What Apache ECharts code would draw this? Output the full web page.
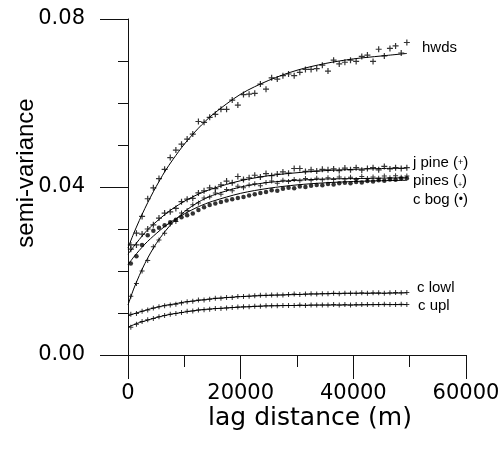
<!DOCTYPE html>
<html>
<head>
<meta charset="utf-8">
<script src="https://cdn.jsdelivr.net/npm/echarts@6/dist/echarts.min.js"></script>
<style>
html, body { margin: 0; padding: 0; background: #fff; }
#chart { width: 500px; height: 451px; }
</style>
</head>
<body>
<div id="chart"></div>
<script>
// lag distance (m) of the empirical semi-variance points
var lags = [500, 1500, 2500, 3500, 4500, 5500, 6500, 7500, 8500, 9500,
  10500, 11500, 12500, 13500, 14500, 15500, 16500, 17500, 18500, 19500,
  20500, 21500, 22500, 23500, 24500, 25500, 26500, 27500, 28500, 29500,
  30500, 31500, 32500, 33500, 34500, 35500, 36500, 37500, 38500, 39500,
  40500, 41500, 42500, 43500, 44500, 45500, 46500, 47500, 48500, 49500];

// lag distance (m) where the fitted models are drawn
var fitLags = [0, 1000, 2000, 3000, 4000, 5000, 6500, 8000, 10000, 12500,
  15000, 20000, 25000, 30000, 35000, 40000, 45000, 49500];

// empirical semi-variance
var hwdsPts = [0.0262, 0.0290, 0.0330, 0.0372, 0.0398, 0.0420, 0.0442, 0.0470, 0.0488, 0.0502,
  0.0514, 0.0526, 0.0556, 0.0554, 0.0566, 0.0573, 0.0585, 0.0585, 0.0607, 0.0595,
  0.0620, 0.0621, 0.0623, 0.0645, 0.0633, 0.0660, 0.0657, 0.0665, 0.0669, 0.0665,
  0.0673, 0.0680, 0.0680, 0.0682, 0.0690, 0.0676, 0.0702, 0.0693, 0.0697, 0.0702,
  0.0699, 0.0711, 0.0714, 0.0699, 0.0728, 0.0712, 0.0730, 0.0736, 0.0719, 0.0744];
var jpinePts = [0.0252, 0.0262, 0.0288, 0.0300, 0.0310, 0.0326, 0.0338, 0.0341, 0.0349, 0.0365,
  0.0371, 0.0373, 0.0386, 0.0391, 0.0398, 0.0396, 0.0405, 0.0414, 0.0410, 0.0425,
  0.0418, 0.0422, 0.0428, 0.0424, 0.0432, 0.0427, 0.0431, 0.0436, 0.0433, 0.0444,
  0.0444, 0.0437, 0.0441, 0.0438, 0.0442, 0.0441, 0.0443, 0.0439, 0.0445, 0.0441,
  0.0446, 0.0440, 0.0444, 0.0446, 0.0441, 0.0449, 0.0443, 0.0446, 0.0444, 0.0446];
var pinesPts = [0.0140, 0.0170, 0.0200, 0.0225, 0.0258, 0.0274, 0.0290, 0.0312, 0.0318, 0.0338,
  0.0344, 0.0358, 0.0362, 0.0374, 0.0376, 0.0386, 0.0383, 0.0394, 0.0391, 0.0402,
  0.0398, 0.0405, 0.0408, 0.0403, 0.0411, 0.0414, 0.0409, 0.0416, 0.0413, 0.0418,
  0.0415, 0.0420, 0.0416, 0.0421, 0.0417, 0.0422, 0.0418, 0.0424, 0.0419, 0.0423,
  0.0418, 0.0425, 0.0420, 0.0424, 0.0421, 0.0426, 0.0422, 0.0427, 0.0423, 0.0426];
var cbogPts = [0.0218, 0.0235, 0.0262, 0.0285, 0.0296, 0.0303, 0.0309, 0.0316, 0.0322, 0.0328,
  0.0333, 0.0337, 0.0345, 0.0352, 0.0357, 0.0361, 0.0364, 0.0368, 0.0371, 0.0374,
  0.0376, 0.0380, 0.0383, 0.0386, 0.0388, 0.0392, 0.0391, 0.0396, 0.0398, 0.0397,
  0.0401, 0.0400, 0.0403, 0.0405, 0.0404, 0.0407, 0.0406, 0.0409, 0.0410, 0.0409,
  0.0412, 0.0411, 0.0414, 0.0413, 0.0416, 0.0415, 0.0418, 0.0417, 0.0420, 0.0421];
var clowlPts = [0.0097, 0.0099, 0.0104, 0.0107, 0.0112, 0.0115, 0.0117, 0.0119, 0.0121, 0.0124,
  0.0127, 0.0128, 0.0131, 0.0131, 0.0133, 0.0135, 0.0135, 0.0137, 0.0137, 0.0139,
  0.0139, 0.0140, 0.0141, 0.0142, 0.0142, 0.0143, 0.0143, 0.0143, 0.0144, 0.0145,
  0.0144, 0.0145, 0.0146, 0.0145, 0.0146, 0.0146, 0.0147, 0.0146, 0.0147, 0.0147,
  0.0147, 0.0148, 0.0147, 0.0148, 0.0148, 0.0147, 0.0148, 0.0149, 0.0148, 0.0149];
var cuplPts = [0.0066, 0.0073, 0.0080, 0.0084, 0.0087, 0.0091, 0.0094, 0.0097, 0.0099, 0.0101,
  0.0104, 0.0105, 0.0107, 0.0108, 0.0109, 0.0111, 0.0111, 0.0112, 0.0113, 0.0114,
  0.0115, 0.0115, 0.0116, 0.0116, 0.0117, 0.0117, 0.0117, 0.0118, 0.0118, 0.0118,
  0.0119, 0.0118, 0.0119, 0.0119, 0.0119, 0.0119, 0.0120, 0.0119, 0.0120, 0.0119,
  0.0120, 0.0120, 0.0120, 0.0120, 0.0120, 0.0121, 0.0120, 0.0120, 0.0121, 0.0120];

// fitted models
var hwdsFit = [0.0255, 0.0289, 0.0320, 0.0349, 0.0376, 0.0401, 0.0436, 0.0466, 0.0502,
  0.0540, 0.0572, 0.0621, 0.0654, 0.0678, 0.0694, 0.0705, 0.0712, 0.0718];
var jpineFit = [0.0240, 0.0258, 0.0275, 0.0291, 0.0305, 0.0317, 0.0334, 0.0349, 0.0366,
  0.0383, 0.0396, 0.0415, 0.0427, 0.0434, 0.0439, 0.0442, 0.0444, 0.0445];
var pinesFit = [0.0119, 0.0157, 0.0189, 0.0218, 0.0243, 0.0265, 0.0293, 0.0316, 0.0341,
  0.0364, 0.0380, 0.0400, 0.0411, 0.0416, 0.0419, 0.0420, 0.0421, 0.0422];
var cbogFit = [0.0215, 0.0233, 0.0249, 0.0264, 0.0277, 0.0289, 0.0306, 0.0320, 0.0336,
  0.0353, 0.0366, 0.0385, 0.0397, 0.0405, 0.0410, 0.0413, 0.0415, 0.0416];
var clowlFit = [0.0093, 0.0098, 0.0102, 0.0106, 0.0110, 0.0113, 0.0118, 0.0121, 0.0126,
  0.0130, 0.0134, 0.0139, 0.0142, 0.0144, 0.0146, 0.0147, 0.0147, 0.0148];
var cuplFit = [0.0066, 0.0072, 0.0077, 0.0081, 0.0085, 0.0089, 0.0094, 0.0098, 0.0102,
  0.0107, 0.0110, 0.0114, 0.0117, 0.0118, 0.0119, 0.0119, 0.0120, 0.0120];

// plus marker drawn as two filled bars
var PLUS = "path://M0,4H10V6H0Z M4,0H6V10H4Z";

function pairs(xs, ys) {
  return ys.map(function (v, i) { return [xs[i], v]; });
}
function pts(name, ys, symbol, size) {
  return {
    name: name, type: "scatter", data: pairs(lags, ys),
    symbol: symbol, symbolSize: size,
    itemStyle: { color: "#000" }, z: 3
  };
}
function fit(name, ys) {
  return {
    name: name + " model", type: "line", data: pairs(fitLags, ys),
    smooth: 0.3, showSymbol: false, silent: true,
    lineStyle: { color: "#000", width: 1 }, z: 2
  };
}

var chart = echarts.init(document.getElementById("chart"));
var lblFont = '15px "Liberation Sans", Arial, sans-serif';

chart.setOption({
  animation: false,
  backgroundColor: "#fff",
  grid: { left: 128, right: 34, top: 19, bottom: 96, outerBoundsMode: "none" },
  xAxis: {
    type: "value", min: 0, max: 60000, interval: 20000,
    name: "lag distance (m)", nameLocation: "middle", nameGap: 51, nameMoveOverlap: false,
    nameTextStyle: { fontSize: 25, color: "#000", fontFamily: "DejaVu Sans", padding: [0, 0, 0, 26] },
    axisLine: { lineStyle: { color: "#111", width: 1 } },
    axisTick: { inside: false, length: 24, lineStyle: { color: "#111" } },
    minorTick: { show: true, splitNumber: 2, length: 12, lineStyle: { color: "#111" } },
    splitLine: { show: false },
    axisLabel: {
      fontSize: 21, color: "#000", fontFamily: "DejaVu Sans", margin: 28,
      formatter: function (v) { return String(v); }
    }
  },
  yAxis: {
    type: "value", min: 0, max: 0.08, interval: 0.04,
    name: "semi-variance", nameLocation: "middle", nameGap: 90, nameMoveOverlap: false,
    nameTextStyle: { fontSize: 24, color: "#000", fontFamily: "Liberation Sans", padding: [0, 0, 0, 28] },
    axisLine: { show: true, lineStyle: { color: "#111", width: 1 } },
    axisTick: { show: true, inside: false, length: 28, lineStyle: { color: "#111" } },
    minorTick: { show: true, splitNumber: 4, length: 10, lineStyle: { color: "#111" } },
    splitLine: { show: false },
    axisLabel: {
      fontSize: 21, color: "#000", fontFamily: "DejaVu Sans", margin: 43,
      formatter: function (v) { return v.toFixed(2); }
    }
  },
  graphic: [
    { type: "text", x: 422, y: 48, style: { text: "hwds", font: lblFont, fill: "#000", verticalAlign: "middle" } },
    { type: "text", x: 413, y: 163, style: { text: "j pine ({s|+})", font: lblFont, fill: "#000", verticalAlign: "middle",
      rich: { s: { fontSize: 9, fontFamily: "Liberation Sans" } } } },
    { type: "text", x: 413, y: 181, style: { text: "pines ({s|+})", font: lblFont, fill: "#000", verticalAlign: "middle",
      rich: { s: { fontSize: 7, fontFamily: "Liberation Sans", verticalAlign: "bottom" } } } },
    { type: "text", x: 413, y: 200, style: { text: "c bog ({s|•})", font: lblFont, fill: "#000", verticalAlign: "middle",
      rich: { s: { fontSize: 12, fontFamily: "Liberation Sans" } } } },
    { type: "text", x: 417, y: 288, style: { text: "c lowl", font: lblFont, fill: "#000", verticalAlign: "middle" } },
    { type: "text", x: 418, y: 306, style: { text: "c upl", font: lblFont, fill: "#000", verticalAlign: "middle" } }
  ],
  series: [
    fit("hwds", hwdsFit),
    fit("j pine", jpineFit),
    fit("pines", pinesFit),
    fit("c bog", cbogFit),
    fit("c lowl", clowlFit),
    fit("c upl", cuplFit),
    pts("hwds", hwdsPts, PLUS, 6),
    pts("j pine", jpinePts, PLUS, 6),
    pts("pines", pinesPts, PLUS, 5),
    pts("c bog", cbogPts, "circle", 4.5),
    pts("c lowl", clowlPts, PLUS, 5),
    pts("c upl", cuplPts, PLUS, 5)
  ]
});
</script>
</body>
</html>
